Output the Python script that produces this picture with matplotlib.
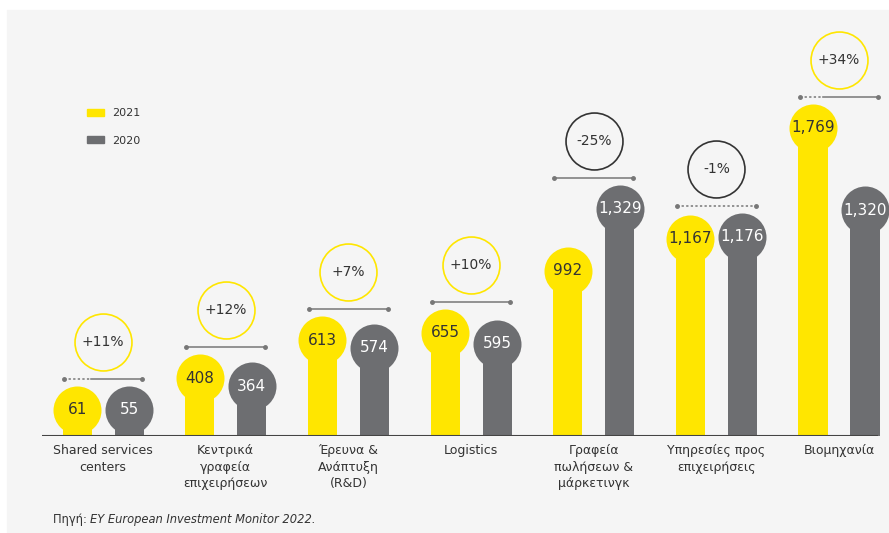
import numpy as np
import matplotlib.pyplot as plt
from matplotlib.patches import Rectangle, Patch

categories = ["Shared services\ncenters", "Κεντρικά\nγραφεία\nεπιχειρήσεων",
              "Έρευνα &\nΑνάπτυξη\n(R&D)", "Logistics",
              "Γραφεία\nπωλήσεων &\nμάρκετινγκ", "Υπηρεσίες προς\nεπιχειρήσεις",
              "Βιομηχανία"]
v2021 = [61, 408, 613, 655, 992, 1167, 1769]
v2020 = [55, 364, 574, 595, 1329, 1176, 1320]
years = ["2021", "2020"]
# share of each bracket drawn dotted (from the left)
dotted = [0.35, 0, 0, 0, 0, 1.0, 0.3]

yellow = "#ffe600"
grey = "#6d6e71"
bg = "#f5f5f5"
dark = "#333333"

W, H = 889, 533
fig = plt.figure(figsize=(W / 100, H / 100), dpi=100)
fig.patch.set_facecolor("white")
fig.patches.append(Rectangle((7 / W, 0), 1, 1 - 10 / H, transform=fig.transFigure,
                             color=bg, zorder=-10))

ax = fig.add_axes([42 / W, 97 / H, 836 / W, 426 / H])
ax.set_facecolor("none")
ylo, yhi = 92.5, 2411
ax.set_xlim(-0.498, 6.318)
ax.set_ylim(ylo, yhi)
for s in ax.spines.values():
    s.set_visible(False)
ax.set_yticks([])

px = (yhi - ylo) / 426          # value units per pixel
r = 24                           # circle radius, px
ms = 2 * r * 72 / 100            # marker size, pt
off = 0.212
x = np.arange(len(categories))

a = np.array(v2021, float)
b = np.array(v2020, float)
cmin = ylo + (r + 2) * px
ca = np.maximum(a, cmin)
cb = np.maximum(b, cmin)

ax.bar(x - off, ca - ylo, bottom=ylo, width=0.237, color=yellow, zorder=2, clip_on=False)
ax.bar(x + off, cb - ylo, bottom=ylo, width=0.237, color=grey, zorder=2, clip_on=False)
ax.plot(x - off, ca, "o", ms=ms, color=yellow, mec="none", zorder=3, clip_on=False)
ax.plot(x + off, cb, "o", ms=ms, color=grey, mec="none", zorder=3, clip_on=False)
for i in range(len(x)):
    ax.text(x[i] - off, ca[i], f"{v2021[i]:,}", ha="center", va="center",
            fontsize=11, color=dark, zorder=4)
    ax.text(x[i] + off, cb[i], f"{v2020[i]:,}", ha="center", va="center",
            fontsize=11, color="white", zorder=4)

# brackets and change circles
for i in range(len(x)):
    yb = max(ca[i], cb[i]) + (r + 7) * px
    x0, x1 = x[i] - 0.32, x[i] + 0.32
    xm = x0 + dotted[i] * (x1 - x0)
    if dotted[i] > 0:
        ax.plot([x0, xm], [yb, yb], color="#777777", lw=1.1, ls=(0, (1.5, 1.5)),
                zorder=2, clip_on=False)
    if dotted[i] < 1:
        ax.plot([xm, x1], [yb, yb], color="#777777", lw=1.1, zorder=2, clip_on=False)
    ax.plot([x0, x1], [yb, yb], "o", ms=2.5, color="#777777", zorder=2, clip_on=False)
    chg = round((v2021[i] / v2020[i] - 1) * 100)
    yc = yb + 37 * px
    ax.plot(x[i], yc, "o", ms=41, mfc=bg, mec=yellow if chg > 0 else dark,
            mew=1.2, zorder=3, clip_on=False)
    ax.text(x[i], yc, f"{chg:+d}%", ha="center", va="center", fontsize=10,
            color=dark, zorder=4)

ax.axhline(ylo, color="#444444", lw=1.5, zorder=5)
ax.set_xticks(x)
ax.set_xticklabels(categories, fontsize=9, color=dark)
ax.tick_params(axis="x", length=0, pad=6)
for t in ax.get_xticklabels():
    t.set_linespacing(1.35)

handles = [Patch(color=yellow), Patch(color=grey)]
ax.legend(handles, years, loc="upper left", bbox_to_anchor=(35 / 836, 1 - 88 / 426),
          frameon=False, fontsize=8, handlelength=1.5, handleheight=0.6,
          labelspacing=1.6, handletextpad=0.8, labelcolor=dark)

t1 = fig.text(53 / W, 1 - 520 / H, "Πηγή: ", fontsize=8.3, color=dark, va="center")
ax.annotate("EY European Investment Monitor 2022.", xy=(1, 0.5), xycoords=t1,
            va="center", fontsize=8.3, color=dark, style="italic",
            annotation_clip=False)

fig.savefig("out.png", dpi=100, facecolor=fig.get_facecolor())
